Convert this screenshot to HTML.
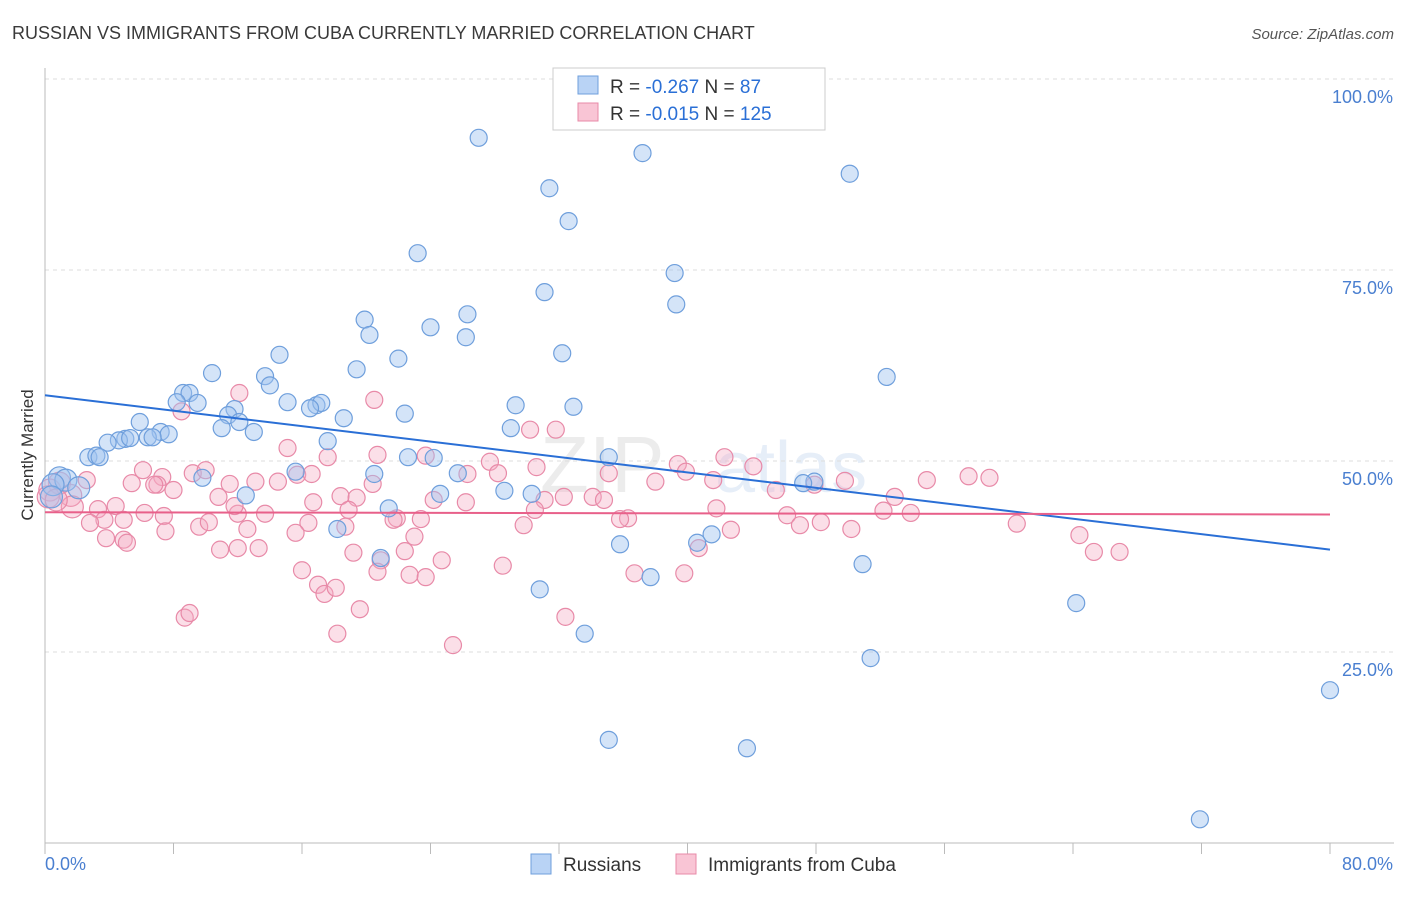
<!DOCTYPE html>
<html><head><meta charset="utf-8">
<style>
body{margin:0;background:#fff;font-family:"Liberation Sans",sans-serif;}
svg text{font-family:"Liberation Sans",sans-serif;}
</style></head>
<body>
<svg id="chart" width="1406" height="892" viewBox="0 0 1406 892" xmlns="http://www.w3.org/2000/svg">
<text x="12" y="39" font-size="18" fill="#3a3a3a">RUSSIAN VS IMMIGRANTS FROM CUBA CURRENTLY MARRIED CORRELATION CHART</text>
<text x="1394" y="39" font-size="15" fill="#555" font-style="italic" text-anchor="end">Source: ZipAtlas.com</text>
<g opacity="0.13">
<text x="540" y="492" font-size="80" fill="#777" font-family="Liberation Serif">ZIP</text>
<text x="715" y="492" font-size="72" fill="#4a7fd0">atlas</text>
</g>
<g id="grid"></g>
<g id="axes"></g>
<g id="pinkPts"></g>
<g id="bluePts"></g>
<g id="lines"></g>
<text transform="translate(33,455) rotate(-90)" font-size="17" fill="#333" text-anchor="middle">Currently Married</text>
<g>
<rect x="553" y="68" width="272" height="62" fill="#fff" stroke="#ccc"/>
<rect x="578" y="76" width="20" height="18" fill="#b9d3f5" stroke="#6f9fdc"/>
<rect x="578" y="103" width="20" height="18" fill="#f9c5d5" stroke="#e88aa8"/>
<text x="610" y="93" font-size="19" fill="#333">R = <tspan fill="#2a6fd6">-0.267</tspan>   N = <tspan fill="#2a6fd6">  87</tspan></text>
<text x="610" y="120" font-size="19" fill="#333">R = <tspan fill="#2a6fd6">-0.015</tspan>   N = <tspan fill="#2a6fd6">125</tspan></text>
</g>
<g>
<rect x="531" y="854" width="20" height="20" fill="#b9d3f5" stroke="#6f9fdc"/>
<text x="563" y="871" font-size="19" fill="#333">Russians</text>
<rect x="676" y="854" width="20" height="20" fill="#f9c5d5" stroke="#e88aa8"/>
<text x="708" y="871" font-size="19" fill="#333">Immigrants from Cuba</text>
</g>
</svg>
<script>
const xTicks=[0,8,16,24,32,40,48,56,64,72,80];
const yTicks=[25,50,75,100];
const yTickLabels=["25.0%","50.0%","75.0%","100.0%"];
const blueX=[27.0,37.2,31.4,50.1,32.6,23.2,39.2,31.1,39.3,19.9,26.3,24.0,20.2,26.2,32.2,14.6,22.0,19.4,10.4,13.7,52.4,14.0,8.6,9.0,8.2,9.5,15.1,16.9,17.2,16.5,29.3,32.9,11.8,11.4,18.6,22.4,5.9,12.1,11.0,13.0,29.0,7.2,7.7,6.4,5.0,4.6,5.3,6.7,3.9,17.6,2.7,3.2,3.4,22.6,24.2,35.1,15.6,20.5,25.7,9.8,0.9,1.3,0.5,2.1,0.4,47.9,47.2,12.5,24.6,28.6,30.3,21.4,41.5,40.6,35.8,18.2,20.9,50.9,37.7,30.8,64.2,33.6,51.4,80.0,35.1,43.7,71.9];
const blueY=[92.3,90.3,85.7,87.6,81.4,77.2,74.6,72.1,70.5,68.5,69.2,67.5,66.5,66.2,64.1,63.9,63.4,62.0,61.5,61.1,61.0,59.9,58.9,58.9,57.7,57.6,57.7,57.3,57.6,56.9,57.3,57.1,56.8,56.0,55.6,56.2,55.1,55.1,54.3,53.8,54.3,53.8,53.5,53.1,52.9,52.7,53.0,53.1,52.4,52.6,50.5,50.7,50.5,50.5,50.4,50.5,48.6,48.3,48.4,47.8,47.8,47.5,46.9,46.5,45.3,47.3,47.1,45.5,45.7,46.1,45.7,43.8,40.4,39.3,39.1,41.1,37.3,36.5,34.8,33.2,31.4,27.4,24.2,20.0,13.5,12.4,3.1];
const pinkX=[8.5,12.1,20.5,30.2,31.8,20.7,23.7,15.1,27.7,42.3,44.1,39.4,57.5,54.9,30.6,35.1,6.1,9.2,10.0,7.3,7.0,8.0,6.8,15.7,16.6,17.6,2.6,0.9,0.3,1.6,5.4,11.5,13.1,14.5,18.4,19.4,20.4,26.3,28.2,39.9,38.0,41.6,45.5,47.9,49.8,52.9,10.8,4.4,6.2,7.4,12.0,13.7,11.8,16.7,18.9,21.9,23.4,24.2,26.2,31.1,32.3,34.1,34.8,36.3,41.8,46.2,48.3,52.2,53.9,58.8,60.5,3.3,3.7,1.7,2.8,4.9,9.6,10.2,12.6,16.4,18.7,21.7,29.8,30.5,35.8,42.7,47.0,50.2,64.4,65.3,66.9,3.8,4.9,5.1,7.5,10.9,12.0,13.3,15.6,22.4,23.0,19.2,20.9,20.7,24.7,28.5,22.7,23.7,16.0,17.0,17.4,18.1,36.7,39.8,40.7,8.7,9.0,19.6,18.2,32.4,25.4,0.2,0.7];
const pinkY=[56.5,58.9,58.0,54.1,54.1,50.8,50.7,51.7,49.9,50.5,49.3,49.6,48.0,47.5,49.2,48.4,48.8,48.4,48.8,47.9,46.9,46.2,46.9,48.2,48.3,50.5,47.5,47.1,46.2,45.5,47.1,47.0,47.3,47.3,45.4,45.2,47.0,48.3,48.4,48.6,47.3,47.5,46.2,46.9,47.4,45.3,45.3,44.1,43.2,42.8,43.1,43.1,44.1,44.6,43.6,42.5,42.4,44.9,44.6,44.9,45.3,45.3,44.9,42.5,43.8,42.9,42.0,43.5,43.2,47.8,41.8,43.7,42.3,44.0,41.9,42.3,41.4,42.0,41.1,41.9,41.4,42.3,41.6,43.6,42.4,41.0,41.6,41.1,40.3,38.1,38.1,39.9,39.7,39.3,40.8,38.4,38.6,38.6,40.6,38.2,40.1,38.0,37.0,35.5,37.0,36.3,35.1,34.8,35.7,33.8,32.6,33.4,35.3,35.3,38.6,29.5,30.1,30.6,27.4,29.6,25.9,45.3,44.9];
const blueTrend=[58.6,38.4];
const pinkTrend=[43.3,43.0];
const NS="http://www.w3.org/2000/svg";
const X0=45,X1=1330,Y0=843,Y100=79;
function sx(v){return X0+(X1-X0)*v/80;}
function sy(v){return Y0-(Y0-Y100)*v/100;}
function mk(tag,attrs,parent){const e=document.createElementNS(NS,tag);for(const k in attrs)e.setAttribute(k,attrs[k]);parent.appendChild(e);return e;}
const grid=document.getElementById('grid'),axes=document.getElementById('axes');
yTicks.forEach((t,i)=>{
 const l=mk('line',{x1:X0,x2:1394,y1:sy(t),y2:sy(t),stroke:'#ddd','stroke-dasharray':'4,4'},grid);
 
 
 const tx=mk('text',{x:1393,y:sy(t)+24,'font-size':18,fill:'#4a7fd0','text-anchor':'end'},axes);
 tx.textContent=yTickLabels[i];
 
 
});
const ax=mk('line',{x1:X0,x2:1394,y1:Y0,y2:Y0,stroke:'#bbb'},axes);


const ay=mk('line',{x1:X0,x2:X0,y1:68,y2:Y0,stroke:'#bbb'},axes);


xTicks.forEach(t=>{
 const l=mk('line',{x1:sx(t),x2:sx(t),y1:Y0,y2:Y0+11,stroke:'#bbb'},axes);
 
 
});
[[0,'0.0%','start',45],[80,'80.0%','end',1393]].forEach(a=>{
 const tx=mk('text',{x:a[3],y:870,'font-size':18,fill:'#4a7fd0','text-anchor':a[2]},axes);
 tx.textContent=a[1];
 
 
});
function pts(xs,ys,g,fill,stroke,name){
 xs.forEach((x,i)=>{
  const r=(x<2.5)?11:8.5;
  const c=mk('circle',{cx:sx(x),cy:sy(ys[i]),r:r,fill:fill,stroke:stroke,'stroke-width':1.2},g);
  
  
 });
}
pts(pinkX,pinkY,document.getElementById('pinkPts'),'rgba(245,170,195,0.38)','#e88aa8','cuba-point');
pts(blueX,blueY,document.getElementById('bluePts'),'rgba(160,195,240,0.45)','#6f9fdc','russian-point');
const lg=document.getElementById('lines');
const bl=mk('line',{x1:sx(0),y1:sy(blueTrend[0]),x2:sx(80),y2:sy(blueTrend[1]),stroke:'#2a6fd6','stroke-width':2},lg);


const pl=mk('line',{x1:sx(0),y1:sy(pinkTrend[0]),x2:sx(80),y2:sy(pinkTrend[1]),stroke:'#e8608a','stroke-width':2},lg);


</script>
</body></html>
